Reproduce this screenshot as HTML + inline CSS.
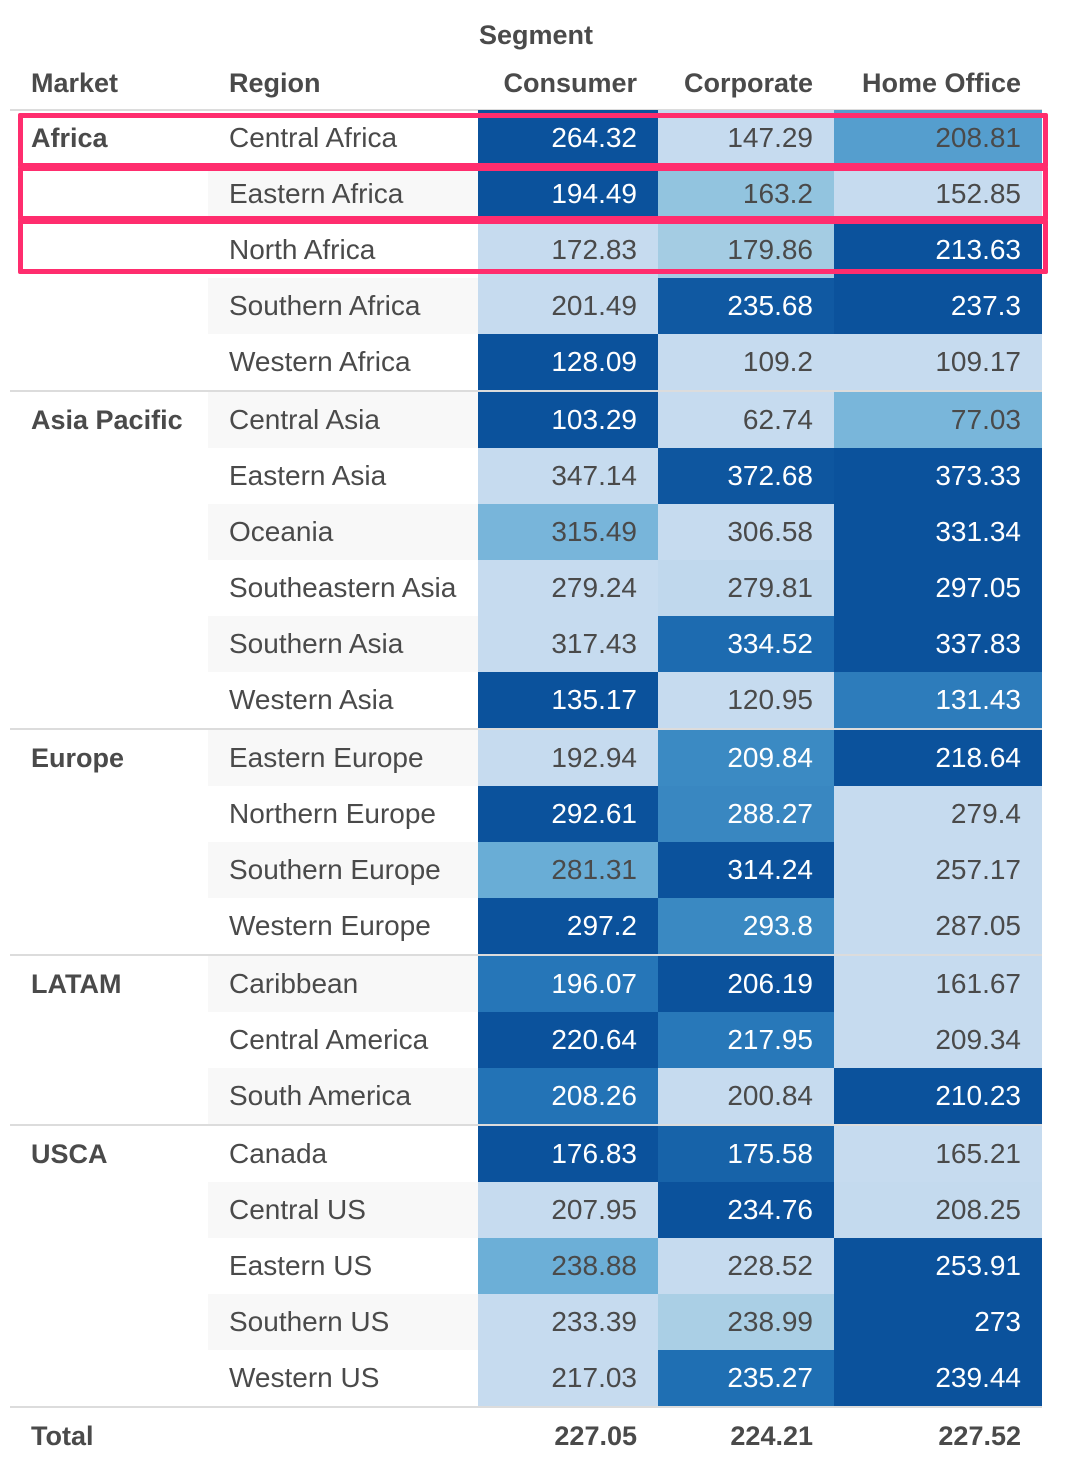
<!DOCTYPE html>
<html><head><meta charset="utf-8"><style>
body{margin:0;width:1066px;height:1478px;background:#fff;font-family:"Liberation Sans",sans-serif;color:#4a4a4a;position:relative;overflow:hidden}
.a{position:absolute;white-space:nowrap;font-size:28px;line-height:28px}
.b{font-weight:bold;font-size:27px}
.cell{position:absolute;height:56px;box-sizing:border-box;text-align:right;padding-right:21px;font-size:28px;line-height:56px}
.line{position:absolute;left:10px;width:1032px;background:#dcdcdc}
.hl{position:absolute;border:5px solid #ff2d6e;box-sizing:border-box;border-radius:2px}
</style></head><body>
<div id="root"></div>
<script>
const markets=["Africa","Asia Pacific","Europe","LATAM","USCA"];
const regions=[["Central Africa","Eastern Africa","North Africa","Southern Africa","Western Africa"],["Central Asia","Eastern Asia","Oceania","Southeastern Asia","Southern Asia","Western Asia"],["Eastern Europe","Northern Europe","Southern Europe","Western Europe"],["Caribbean","Central America","South America"],["Canada","Central US","Eastern US","Southern US","Western US"]];
const segments=["Consumer","Corporate","Home Office"];
const consumer=[264.32,194.49,172.83,201.49,128.09,103.29,347.14,315.49,279.24,317.43,135.17,192.94,292.61,281.31,297.2,196.07,220.64,208.26,176.83,207.95,238.88,233.39,217.03];
const corporate=[147.29,163.2,179.86,235.68,109.2,62.74,372.68,306.58,279.81,334.52,120.95,209.84,288.27,314.24,293.8,206.19,217.95,200.84,175.58,234.76,228.52,238.99,235.27];
const homeOffice=[208.81,152.85,213.63,237.3,109.17,77.03,373.33,331.34,297.05,337.83,131.43,218.64,279.4,257.17,287.05,161.67,209.34,210.23,165.21,208.25,253.91,273,239.44];
const totals=["227.05","224.21","227.52"];
const series=[consumer,corporate,homeOffice];
const colX=[478,658,834,1042];
const stops=[[198,219,239],[158,202,225],[110,176,216],[70,148,200],[33,113,181],[11,82,156]];
function color(t){t=Math.max(0,Math.min(1,t));const p=t*(stops.length-1);const i=Math.min(Math.floor(p),stops.length-2);const f=p-i;const c=stops[i].map((v,k)=>Math.round(v+(stops[i+1][k]-v)*f));return `rgb(${c})`;}
function rowTop(i,g){return 110+i*56+g*2;}
const root=document.getElementById('root');
function add(cls,style,text){const d=document.createElement('div');d.className=cls;d.style.cssText=style;if(text!==undefined)d.textContent=text;root.appendChild(d);return d;}
let e;
e=add('a b','left:479px;top:21px','Segment');


e=add('a b','left:31px;top:69px','Market');


e=add('a b','left:229px;top:69px','Region');


segments.forEach((s,j)=>{const h=add('a b','left:'+colX[j]+'px;width:'+(colX[j+1]-colX[j]-21)+'px;text-align:right;top:69px',s);

});
e=add('line','top:109px;height:2px');


let idx=0;
markets.forEach((m,g)=>{
 if(g>0){const l=add('line','top:'+(rowTop(idx,g)-2)+'px;height:2px');
 
 }
 regions[g].forEach((r,k)=>{
  const top=rowTop(idx,g);
  if(idx%2===1){const bg=add('','position:absolute;left:208px;width:270px;height:56px;background:#f8f8f8;top:'+top+'px');
  
  }
  if(k===0){const mm=add('a b','left:31px;top:'+(top+14)+'px',m);
  
  }
  const rr=add('a','left:229px;top:'+(top+14)+'px',r);
  
  
  const vals=series.map(s=>s[idx]);const mn=Math.min(...vals),mx=Math.max(...vals);
  vals.forEach((v,j)=>{const t=mx>mn?(v-mn)/(mx-mn):0;
   const c=add('cell','left:'+colX[j]+'px;width:'+(colX[j+1]-colX[j])+'px;top:'+top+'px;background:'+color(t)+';color:'+(t>0.6?'#fff':'#4a4a4a'),String(v));
   
   });
  idx++;
 });
});
e=add('line','top:1406px;height:2px');


e=add('a b','left:31px;top:1422px','Total');


totals.forEach((t,j)=>{const c=add('a b','left:'+colX[j]+'px;width:'+(colX[j+1]-colX[j]-21)+'px;text-align:right;top:1422px',t);

});
[[113,168],[166,221],[219,274]].forEach(([a,b])=>{const h=add('hl','left:18px;width:1030px;top:'+a+'px;height:'+(b-a)+'px');

});
</script>
</body></html>
